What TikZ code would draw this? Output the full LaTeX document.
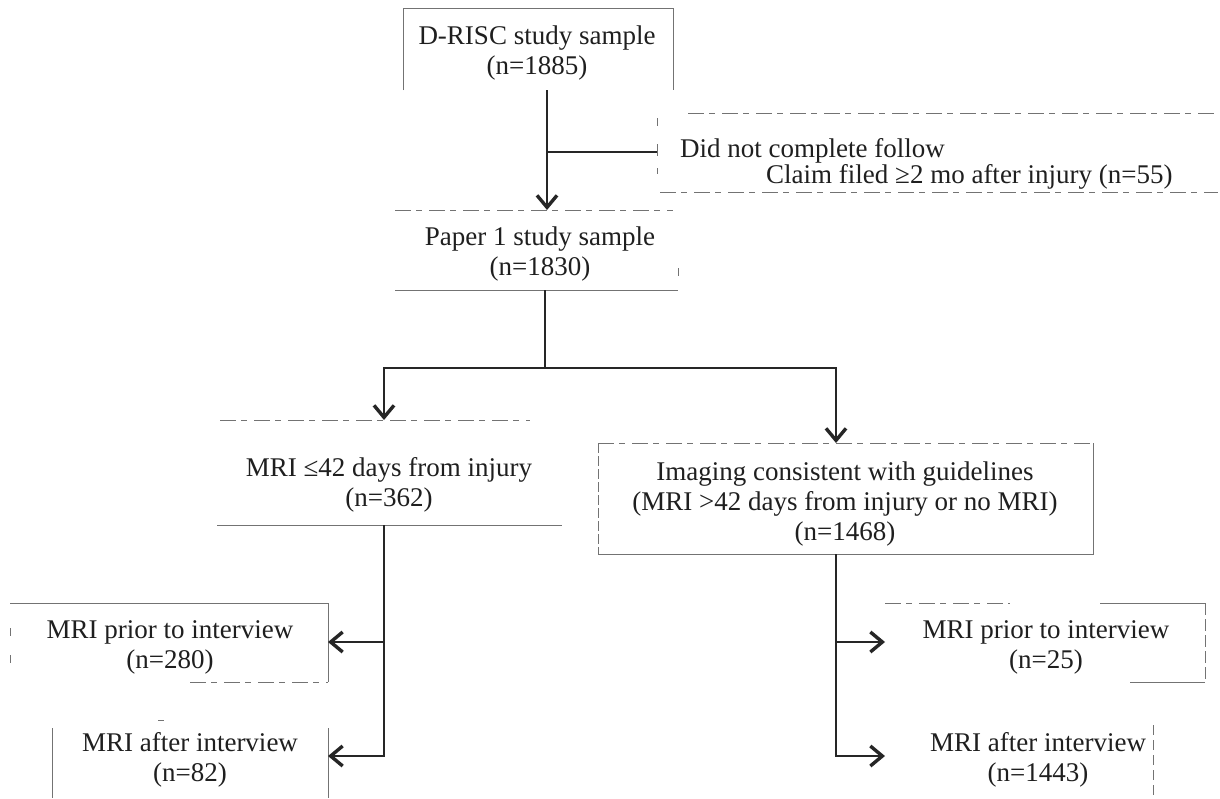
\documentclass[tikz,border=0pt]{standalone}
\usepackage{fontspec}
\setmainfont{Liberation Serif}
\usetikzlibrary{arrows.meta}
\begin{document}
\begin{tikzpicture}[x=1pt,y=-1pt,
  txt/.style={font=\fontsize{27}{30}\selectfont, text=black!88, align=center, inner sep=0pt},
  bline/.style={draw=black!55, line width=0.9pt},
  dline/.style={bline, dash pattern=on 16pt off 5pt on 6pt off 7pt},
  conn/.style={draw=black!85, line width=1.1pt},
  arr/.style={conn, -{Straight Barb[length=12pt,width=20pt,line width=3.4pt]}}]
\path[use as bounding box, fill=white] (0,0) rectangle (1220,798);

% text nodes
\node[txt] (drisc) at (537,53) {D-RISC study sample\\(n=1885)};
\node[txt, align=left, anchor=north west] (excl) at (680,138) {Did not complete follow\\[-4pt]\hspace*{86pt}Claim filed ≥2 mo after injury (n=55)};
\node[txt] (paper) at (540,254) {Paper 1 study sample\\(n=1830)};
\node[txt] (m42) at (389,485) {MRI ≤42 days from injury\\(n=362)};
\node[txt] (img) at (845,504) {Imaging consistent with guidelines\\(MRI >42 days from injury or no MRI)\\(n=1468)};
\node[txt] (lpri) at (170,647) {MRI prior to interview\\(n=280)};
\node[txt] (laft) at (190,760) {MRI after interview\\(n=82)};
\node[txt] (rpri) at (1046,647) {MRI prior to interview\\(n=25)};
\node[txt] (raft) at (1038,760) {MRI after interview\\(n=1443)};

% box outlines (as printed, partly broken)
\draw[bline] (403,90) -- (403,8) -- (673,8) -- (673,90);
\draw[dline] (688,113) -- (1218,113);
\draw[dline] (660,192) -- (1218,192);
\draw[bline] (657,118) -- (657,126);
\draw[bline] (657,144) -- (657,156);
\draw[bline] (657,168) -- (657,174);
\draw[dline] (395,210) -- (673,210);
\draw[bline] (395,290) -- (678,290);
\draw[bline] (678,268) -- (678,276);
\draw[dline] (220,420) -- (530,420);
\draw[bline] (217,525) -- (562,525);
\draw[dline] (598,443) -- (1093,443);
\draw[bline, dash pattern=on 10pt off 3pt] (598,443) -- (598,554);
\draw[bline] (1093,443) -- (1093,554) -- (598,554);
\draw[bline] (10,603) -- (328,603) -- (328,682);
\draw[dline] (190,682) -- (328,682);
\draw[bline] (10,628) -- (10,636);
\draw[bline] (10,655) -- (10,663);
\draw[bline] (52,728) -- (52,798);
\draw[bline] (328,728) -- (328,798);
\draw[bline] (158,720) -- (164,720);
\draw[dline] (885,603) -- (1010,603);
\draw[bline] (1100,603) -- (1205,603);
\draw[bline, dash pattern=on 12pt off 4pt] (1205,603) -- (1205,682);
\draw[bline] (1130,682) -- (1205,682);
\draw[bline, dash pattern=on 10pt off 5pt] (1153,725) -- (1153,798);

% connector points
\coordinate (dB) at (547,90);
\coordinate (pT) at (547,210);
\coordinate (j1) at (547,152);
\coordinate (eW) at (657,152);
\coordinate (pB) at (545,290);
\coordinate (j2) at (545,368);
\coordinate (m42T) at (384,420);
\coordinate (imgT) at (836,443);
\coordinate (m42B) at (384,525);
\coordinate (lj) at (384,642);
\coordinate (lpriE) at (328,642);
\coordinate (laftE) at (328,756);
\coordinate (imgB) at (836,554);
\coordinate (rj) at (836,642);
\coordinate (rpriW) at (885,642);
\coordinate (raftW) at (885,756);

% connectors
\draw[arr] (dB) -- (pT);
\draw[conn] (j1) -- (eW);
\draw[conn] (pB) -- (j2);
\draw[arr] (j2) -| (m42T);
\draw[arr] (j2) -| (imgT);
\draw[arr] (m42B) |- (laftE);
\draw[arr] (lj) -- (lpriE);
\draw[arr] (imgB) |- (raftW);
\draw[arr] (rj) -- (rpriW);
\end{tikzpicture}
\end{document}
